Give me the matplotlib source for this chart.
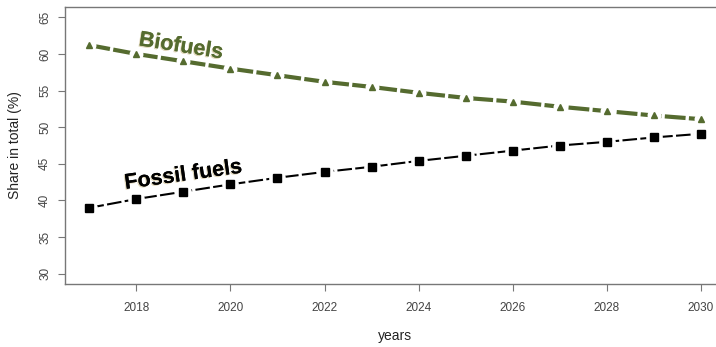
import matplotlib
matplotlib.use("Agg")
import matplotlib.pyplot as plt
import matplotlib.patheffects as pe

plt.rcParams["font.family"] = ["Liberation Sans", "DejaVu Sans"]

years = [2017, 2018, 2019, 2020, 2021, 2022, 2023, 2024, 2025, 2026, 2027, 2028, 2029, 2030]
fossil = [39.0, 40.2, 41.2, 42.2, 43.1, 43.9, 44.6, 45.4, 46.1, 46.8, 47.5, 48.0, 48.6, 49.1]
biofuels = [61.2, 60.0, 59.0, 58.0, 57.1, 56.2, 55.5, 54.7, 54.0, 53.5, 52.8, 52.2, 51.6, 51.1]
xticks = [2018, 2020, 2022, 2024, 2026, 2028, 2030]
yticks = [30, 35, 40, 45, 50, 55, 60, 65]

green = "#556b2f"

fig = plt.figure(figsize=(7.16, 3.47), dpi=100)
ax = fig.add_axes([0.0908, 0.1816, 0.9218, 0.798])

# lines with gaps around the points, like R type="b"
ax.plot(years, biofuels, color=green, lw=3.0, dashes=(5, 0.8), dash_capstyle="butt", zorder=2)
ax.plot(years, fossil, color="black", lw=1.5, dashes=(7, 1.6), dash_capstyle="butt", zorder=2)
ax.plot(years, biofuels, ls="none", marker="o", ms=10, mfc="white", mec="none", zorder=3)
ax.plot(years, fossil, ls="none", marker="o", ms=12, mfc="white", mec="none", zorder=3)
ax.plot(years, biofuels, ls="none", marker="^", ms=4.5, mfc=green, mec=green, zorder=4)
ax.plot(years, fossil, ls="none", marker="s", ms=6, mfc="black", mec="black", zorder=4)

shadow = [pe.withSimplePatchShadow(offset=(-0.8, -0.8), shadow_rgbFace="#d8cba6", alpha=0.8), pe.Normal()]
ax.text(2018.95, 58.7, "Biofuels", color=green, fontsize=15.5, fontweight="bold",
        rotation=-9, ha="center", va="bottom", path_effects=shadow)
ax.text(2019.0, 40.9, "Fossil fuels", color="black", fontsize=15.5, fontweight="bold",
        rotation=8, ha="center", va="bottom", path_effects=shadow)

ax.set_xlim(2016.48, 2030.52)
ax.set_ylim(28.6, 66.4)
ax.set_xticks(xticks)
ax.set_yticks(yticks)
ax.tick_params(axis="both", colors="#777777", labelcolor="#444444", labelsize=8.5, length=5)
for lab in ax.get_yticklabels():
    lab.set_rotation(90)
    lab.set_va("center")
ax.tick_params(axis="x", pad=8)
ax.tick_params(axis="y", pad=5)
for s in ax.spines.values():
    s.set_color("#777777")
    s.set_linewidth(1)

ax.set_xlabel("years", fontsize=10, color="#222222", labelpad=11)
ax.set_ylabel("Share in total (%)", fontsize=10, color="#222222", labelpad=12)

fig.savefig("out.png", dpi=100)
